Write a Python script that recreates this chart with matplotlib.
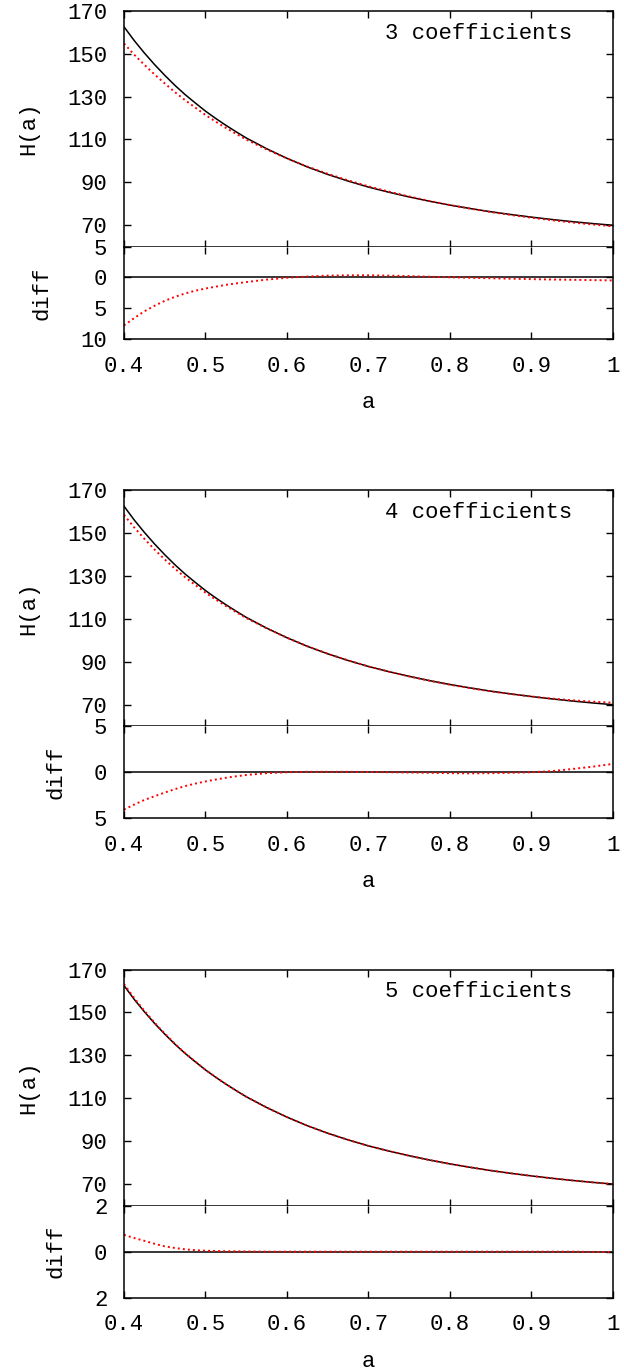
import matplotlib
matplotlib.use("Agg")
import matplotlib.pyplot as plt

plt.rcParams["font.family"] = ["Liberation Mono", "DejaVu Sans Mono"]
plt.rcParams["font.size"] = 16

# scale factor grid (denser where the curves bend most)
a_vals = [0.4000, 0.4125, 0.4250, 0.4375, 0.4500, 0.4625, 0.4750, 0.4875,
          0.5000, 0.5125, 0.5250, 0.5375, 0.5500, 0.575, 0.600,
          0.625, 0.650, 0.675, 0.700, 0.725, 0.750, 0.775, 0.800, 0.825,
          0.850, 0.875, 0.900, 0.925, 0.950, 0.975, 1.000]

# exact Hubble rate H(a)
h_true = [162.5, 156.1, 150.3, 144.9, 139.9, 135.2, 130.9, 127.0,
          123.2, 119.8, 116.6, 113.6, 110.7, 105.7, 101.2,
          97.2, 93.7, 90.6, 87.8, 85.4, 83.2, 81.2, 79.4, 77.8,
          76.3, 75.0, 73.8, 72.7, 71.7, 70.8, 70.0]

# fit minus exact, for each number of expansion coefficients
diff_3 = [-7.8, -6.6, -5.5, -4.6, -3.8, -3.15, -2.6, -2.15,
          -1.8, -1.5, -1.2, -0.97, -0.75, -0.35, -0.05,
          0.15, 0.30, 0.35, 0.35, 0.30, 0.22, 0.12, 0.03, -0.05,
          -0.13, -0.20, -0.27, -0.33, -0.38, -0.43, -0.48]
diff_4 = [-4.05, -3.5, -3.0, -2.6, -2.2, -1.83, -1.5, -1.23,
          -1.0, -0.79, -0.6, -0.44, -0.3, -0.1, 0.0,
          0.05, 0.05, 0.05, 0.03, 0.0, -0.03, -0.06, -0.10, -0.12,
          -0.10, -0.06, 0.0, 0.12, 0.35, 0.60, 0.90]
diff_5 = [0.73, 0.59, 0.47, 0.34, 0.23, 0.16, 0.10, 0.065,
          0.04, 0.03, 0.02, 0.015, 0.01, 0.0, 0.0,
          0.0, 0.0, 0.0, 0.0, 0.0, 0.0, 0.0, 0.0, 0.0,
          0.0, 0.0, 0.0, 0.0, 0.0, -0.01, -0.02]

panel_titles = ["3 coefficients", "4 coefficients", "5 coefficients"]
panel_diffs = [diff_3, diff_4, diff_5]
diff_limits = [(-10, 5), (-5, 5), (-2, 2)]
diff_ticks = [[5, 0, -5, -10], [5, 0, -5], [2, 0, -2]]
diff_ticklabels = [["5", "0", "5", "10"], ["5", "0", "5"], ["2", "0", "2"]]

h_ticks = [70, 90, 110, 130, 150, 170]
x_ticks = [0.4, 0.5, 0.6, 0.7, 0.8, 0.9, 1.0]
x_ticklabels = ["0.4", "0.5", "0.6", "0.7", "0.8", "0.9", "1"]

W, H = 624, 1372
fig = plt.figure(figsize=(W / 100, H / 100), dpi=100)

left_px, right_px = 124.0, 612.7
period = 479.4


def frac_box(top_px, bottom_px):
    return [left_px / W, 1 - bottom_px / H,
            (right_px - left_px) / W, (bottom_px - top_px) / H]


def style_axes(ax):
    for s in ax.spines.values():
        s.set_linewidth(1.1)
    ax.tick_params(direction="in", length=5, width=1.0, top=True, right=True,
                   pad=12)


for i in range(3):
    top = 10.7 + period * i
    mid = 246.7 + period * i
    bot = 339.0 + period * i

    diff = panel_diffs[i]
    h_fit = [h + d for h, d in zip(h_true, diff)]

    ax = fig.add_axes(frac_box(top, mid))
    ax.plot(a_vals, h_true, color="black", lw=1.1, solid_joinstyle="round")
    ax.plot(a_vals, h_fit, color="red", lw=1.4, linestyle=(0, (1, 1.6)))
    ax.set_xlim(0.4, 1.0)
    ax.set_ylim(60, 170)
    ax.set_yticks(h_ticks)
    ax.set_xticks(x_ticks)
    ax.set_xticklabels([])
    style_axes(ax)
    ax.set_ylabel("H(a)", labelpad=20)
    ax.text(0.917, 0.905, panel_titles[i], transform=ax.transAxes,
            ha="right", va="center")

    axd = fig.add_axes(frac_box(mid, bot))
    axd.axhline(0, color="black", lw=1.1)
    axd.plot(a_vals, diff, color="red", lw=1.4, linestyle=(0, (1, 1.6)))
    axd.set_xlim(0.4, 1.0)
    axd.set_ylim(*diff_limits[i])
    axd.set_yticks(diff_ticks[i])
    axd.set_yticklabels(diff_ticklabels[i])
    axd.set_xticks(x_ticks)
    axd.set_xticklabels(x_ticklabels)
    style_axes(axd)
    axd.spines["top"].set_visible(False)
    axd.set_ylabel("diff", labelpad=20)
    axd.set_xlabel("a", labelpad=11)

fig.savefig("out.png", dpi=100)
